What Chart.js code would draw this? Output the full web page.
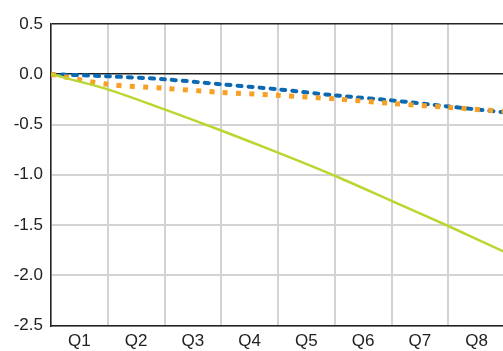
<!DOCTYPE html>
<html>
<head>
<meta charset="utf-8">
<script src="https://cdn.jsdelivr.net/npm/chart.js@4"></script>
<style>
  html, body { margin: 0; padding: 0; background: #fff; overflow: hidden; }
  #wrap { width: 505px; height: 351px; }
</style>
</head>
<body>
<div id="wrap"><canvas id="chart"></canvas></div>
<script>
const quarters = ['Q1', 'Q2', 'Q3', 'Q4', 'Q5', 'Q6', 'Q7', 'Q8'];
// values at quarter boundaries 0..8
const steps = [0, 1, 2, 3, 4, 5, 6, 7, 8];
const blueSeries = [0, -0.02, -0.05, -0.10, -0.15, -0.21, -0.26, -0.32, -0.38];
const orangeSeries = [0, -0.10, -0.14, -0.18, -0.21, -0.245, -0.29, -0.33, -0.37];
const greenSeries = [0, -0.15, -0.35, -0.56, -0.78, -1.01, -1.26, -1.51, -1.77];
const yTicks = [-2.5, -2.0, -1.5, -1.0, -0.5, 0.0, 0.5];

const pts = vals => vals.map((v, i) => ({ x: steps[i], y: v }));
const isDark = c => c.tick && (c.tick.value === 0 || c.tick.value === 0.5);

const ctx = document.getElementById('chart').getContext('2d');
new Chart(ctx, {
  type: 'line',
  data: {
    labels: quarters,
    datasets: [
      {
        data: pts(greenSeries),
        xAxisID: 'xl',
        borderColor: '#bcd531',
        borderWidth: 2.5,
        pointRadius: 0,
        tension: 0.3,
        fill: false
      },
      {
        data: pts(orangeSeries),
        xAxisID: 'xl',
        borderColor: '#f7a024',
        borderWidth: 5,
        borderDash: [5, 8.3],
        borderCapStyle: 'butt',
        pointRadius: 0,
        tension: 0.3,
        fill: false
      },
      {
        data: pts(blueSeries),
        xAxisID: 'xl',
        borderColor: '#0b69b3',
        borderWidth: 4,
        borderDash: [4, 7],
        borderCapStyle: 'round',
        pointRadius: 0,
        tension: 0.3,
        fill: false
      }
    ]
  },
  options: {
    responsive: true,
    maintainAspectRatio: false,
    animation: false,
    layout: { padding: { top: 24, right: 0, bottom: 0, left: 0 } },
    plugins: { legend: { display: false }, tooltip: { enabled: false } },
    scales: {
      x: {
        type: 'category',
        offset: true,
        grid: { offset: true, color: '#d3d3d3', lineWidth: 2, drawTicks: false },
        border: { color: '#222', width: 1.5 },
        ticks: { color: '#222', font: { family: 'Liberation Sans', size: 17 }, padding: 6 },
        afterFit: s => { s.height = 25.5; }
      },
      xl: {
        type: 'linear',
        display: false,
        min: 0,
        max: 8
      },
      y: {
        min: -2.5,
        max: 0.5,
        afterBuildTicks: s => { s.ticks = yTicks.map(v => ({ value: v })); },
        grid: {
          color: c => isDark(c) ? '#222' : '#d3d3d3',
          lineWidth: c => isDark(c) ? 1.5 : 2,
          drawTicks: false
        },
        border: { color: '#222', width: 1.5 },
        ticks: {
          color: '#222',
          font: { family: 'Liberation Sans', size: 17 },
          padding: 8,
          callback: v => v.toFixed(1)
        },
        afterFit: s => { s.width = 51; }
      }
    }
  }
});
</script>
</body>
</html>
